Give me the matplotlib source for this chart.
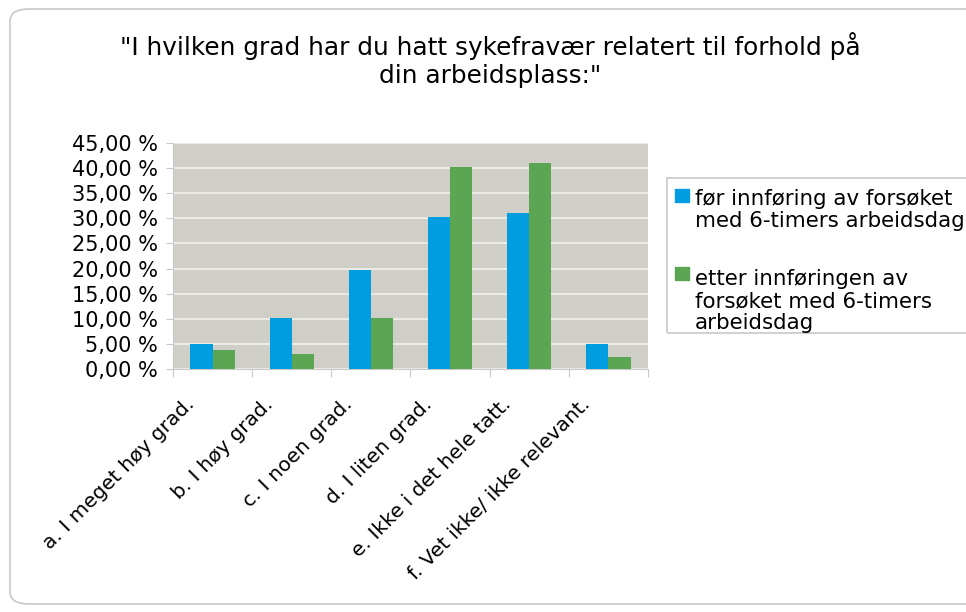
import numpy as np
import matplotlib
matplotlib.use("Agg")
import matplotlib.pyplot as plt
from matplotlib.patches import FancyBboxPatch, Rectangle
from matplotlib.ticker import FuncFormatter, MultipleLocator
from matplotlib.transforms import ScaledTranslation

categories = ["a. I meget høy grad.", "b. I høy grad.", "c. I noen grad.",
              "d. I liten grad.", "e. Ikke i det hele tatt.", "f. Vet ikke/ ikke relevant."]
before = [4.9, 10.1, 19.7, 30.3, 31.1, 4.9]
after = [3.7, 2.9, 10.1, 40.2, 41.0, 2.3]
series_names = ["før innføring av forsøket\nmed 6-timers arbeidsdag",
                "etter innføringen av\nforsøket med 6-timers\narbeidsdag"]
title = '"I hvilken grad har du hatt sykefravær relatert til forhold på\ndin arbeidsplass:"'

plt.rcParams["font.family"] = ["DejaVu Sans"]

W, H = 966, 612
fig = plt.figure(figsize=(W / 100, H / 100), dpi=100)
fig.patch.set_facecolor("white")

# chart border, rounded corners, right side runs off the image
border = FancyBboxPatch((10 / W, 8 / H), 1.2, 595 / H,
                        boxstyle="round,pad=0,rounding_size=0.02",
                        transform=fig.transFigure, fill=False,
                        edgecolor="#c8c8c8", linewidth=1.2)
fig.patches.append(border)

ax = fig.add_axes([173 / W, 1 - 369 / H, 475 / W, 226 / H])
ax.set_facecolor("#d0cfc7")

x = np.arange(len(categories))
w = 0.28
b1 = ax.bar(x - w / 2, before, w, color="#009ee0", zorder=3)
b2 = ax.bar(x + w / 2, after, w, color="#5ba553", zorder=3)

ax.set_ylim(0, 45)
ax.set_xlim(-0.5, len(categories) - 0.5)
ax.yaxis.set_major_locator(MultipleLocator(5))
ax.yaxis.set_major_formatter(FuncFormatter(lambda v, p: f"{v:.2f} %".replace(".", ",")))
ax.grid(axis="y", color="#eeeee9", linewidth=1.3, zorder=1)

ax.set_xticks(np.arange(len(categories) + 1) - 0.5)
ax.set_xticklabels([])
ax.tick_params(axis="x", which="major", length=6, color="#c8c8c8")
ax.tick_params(axis="y", length=5, color="#c8c8c8", labelsize=15, pad=6)

# rotated category labels, end of text a bit left of and below the category centre
off = ScaledTranslation(-17.5 / 100, -36 / 100, fig.dpi_scale_trans)
for xi, lab in zip(x, categories):
    ax.text(xi, 0, lab, transform=ax.get_xaxis_transform() + off,
            rotation=45, ha="right", va="baseline", rotation_mode="anchor",
            fontsize=14.5)

for s in ["top", "right"]:
    ax.spines[s].set_visible(False)
ax.spines["left"].set_color("#c8c8c8")
ax.spines["bottom"].set_color("#c8c8c8")

# va=baseline on multiline text uses the last line
fig.text(490 / W, 1 - 83 / H, title, ha="center", va="baseline",
         fontsize=17.8, linespacing=1.2)

# legend box (clipped at the right edge like the original)
fig.patches.append(Rectangle((667 / W, 1 - 333 / H), 0.5, 155 / H,
                             transform=fig.transFigure, fill=False,
                             edgecolor="#c8c8c8", linewidth=1.2))
leg_first_baselines = [203, 281]
line_h = 24
for name, bars, yb in zip(series_names, [b1, b2], leg_first_baselines):
    fig.patches.append(Rectangle((675 / W, 1 - (yb - 1) / H), 14 / W, 13 / H,
                                 transform=fig.transFigure,
                                 color=bars.patches[0].get_facecolor()))
    n_lines = name.count("\n") + 1
    fig.text(695 / W, 1 - (yb + line_h * (n_lines - 1)) / H, name,
             ha="left", va="baseline", fontsize=15.4, linespacing=1.12)

fig.savefig("out.png", dpi=100)
